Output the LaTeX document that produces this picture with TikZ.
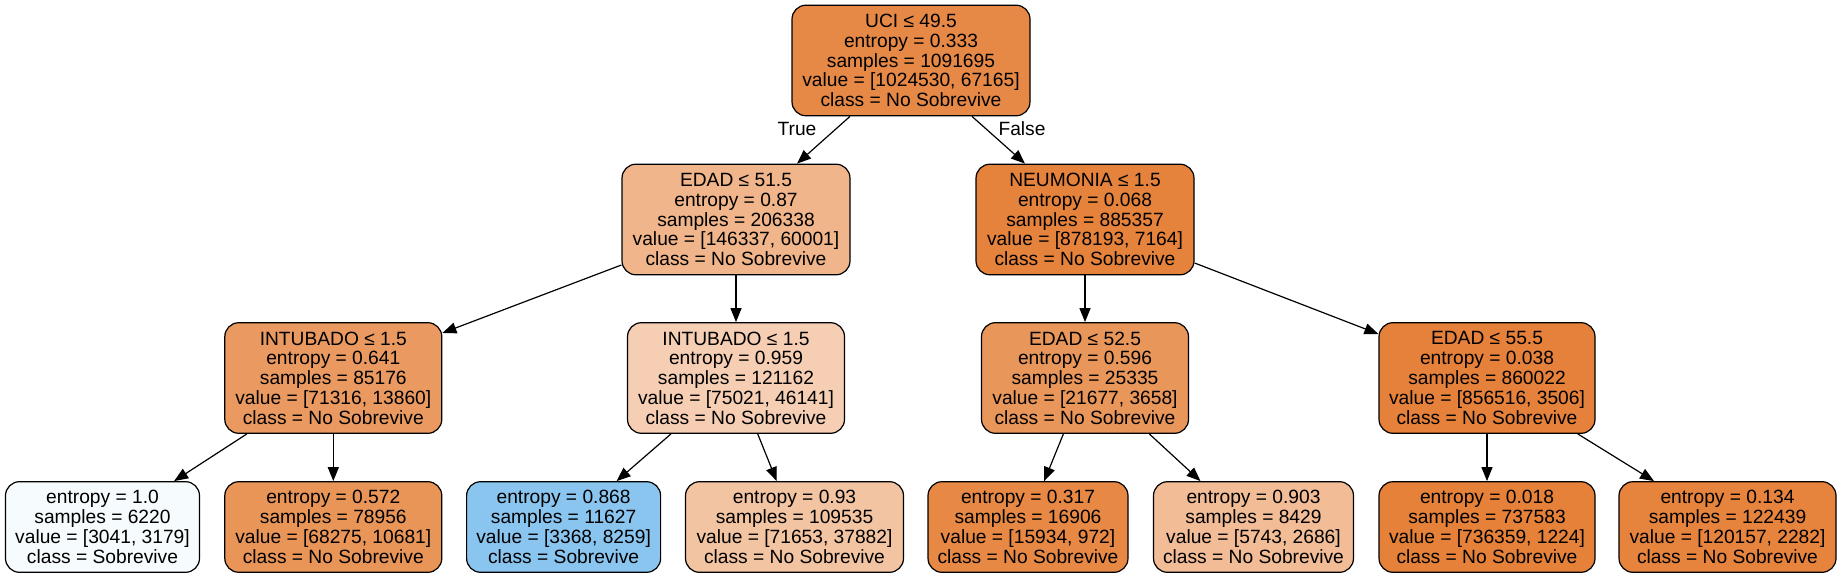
\documentclass[tikz,border=0pt]{standalone}
\usepackage{fontspec}
\setmainfont{Liberation Sans}
\usetikzlibrary{arrows.meta,calc}

\definecolor{n0}{RGB}{231,137,70}
\definecolor{n1}{RGB}{240,181,138}
\definecolor{n2}{RGB}{234,154,96}
\definecolor{n3}{RGB}{246,251,254}
\definecolor{n4}{RGB}{233,149,88}
\definecolor{n5}{RGB}{245,206,179}
\definecolor{n6}{RGB}{138,197,240}
\definecolor{n7}{RGB}{243,196,162}
\definecolor{n8}{RGB}{229,130,59}
\definecolor{n9}{RGB}{233,150,90}
\definecolor{n10}{RGB}{231,137,69}
\definecolor{n11}{RGB}{241,188,150}
\definecolor{n12}{RGB}{229,129,58}
\definecolor{n13}{RGB}{229,129,57}
\definecolor{n14}{RGB}{230,131,61}

\begin{document}
\begin{tikzpicture}[x=0.5pt, y=-0.5pt, line width=0.6pt, >={Triangle[length=7pt,width=5.5pt]},
	main/.style = {draw, rounded corners=7pt, align=center, inner xsep=2pt, minimum height=55.3pt, font=\fontsize{9.6}{9.9}\selectfont},
	leaf/.style = {main, minimum height=45.3pt},
	lab/.style = {font=\fontsize{9.6}{9.9}\selectfont}]
		\useasboundingbox[fill=white] (0,0) rectangle (1842,577);
		
		\node[main, fill=n0, minimum width=119pt] (0) at (911,60.5) {UCI ≤ 49.5\\entropy = 0.333\\samples = 1091695\\value = [1024530, 67165]\\class = No Sobrevive};
		
		\node[main, fill=n1, minimum width=114pt] (1) at (736,219.5) {EDAD ≤ 51.5\\entropy = 0.87\\samples = 206338\\value = [146337, 60001]\\class = No Sobrevive};
		\node[main, fill=n8, minimum width=109pt] (8) at (1085,219.5) {NEUMONIA ≤ 1.5\\entropy = 0.068\\samples = 885357\\value = [878193, 7164]\\class = No Sobrevive};
		
		\node[main, fill=n2, minimum width=108.5pt] (2) at (333.3,378) {INTUBADO ≤ 1.5\\entropy = 0.641\\samples = 85176\\value = [71316, 13860]\\class = No Sobrevive};
		\node[main, fill=n5, minimum width=108.5pt] (5) at (736,378) {INTUBADO ≤ 1.5\\entropy = 0.959\\samples = 121162\\value = [75021, 46141]\\class = No Sobrevive};
		\node[main, fill=n9, minimum width=103.5pt] (9) at (1085,378) {EDAD ≤ 52.5\\entropy = 0.596\\samples = 25335\\value = [21677, 3658]\\class = No Sobrevive};
		\node[main, fill=n12, minimum width=108pt] (12) at (1487,378) {EDAD ≤ 55.5\\entropy = 0.038\\samples = 860022\\value = [856516, 3506]\\class = No Sobrevive};
		
		\node[leaf, fill=n3, minimum width=97pt] (3) at (102.5,527) {entropy = 1.0\\samples = 6220\\value = [3041, 3179]\\class = Sobrevive};
		\node[leaf, fill=n4, minimum width=108.5pt] (4) at (333.3,527) {entropy = 0.572\\samples = 78956\\value = [68275, 10681]\\class = No Sobrevive};
		\node[leaf, fill=n6, minimum width=97pt] (6) at (563.6,527) {entropy = 0.868\\samples = 11627\\value = [3368, 8259]\\class = Sobrevive};
		\node[leaf, fill=n7, minimum width=109pt] (7) at (794.5,527) {entropy = 0.93\\samples = 109535\\value = [71653, 37882]\\class = No Sobrevive};
		\node[leaf, fill=n10, minimum width=100pt] (10) at (1028,527) {entropy = 0.317\\samples = 16906\\value = [15934, 972]\\class = No Sobrevive};
		\node[leaf, fill=n11, minimum width=100pt] (11) at (1253.5,527) {entropy = 0.903\\samples = 8429\\value = [5743, 2686]\\class = No Sobrevive};
		\node[leaf, fill=n13, minimum width=108pt] (13) at (1487,527) {entropy = 0.018\\samples = 737583\\value = [736359, 1224]\\class = No Sobrevive};
		\node[leaf, fill=n14, minimum width=108.5pt] (14) at (1727.5,527) {entropy = 0.134\\samples = 122439\\value = [120157, 2282]\\class = No Sobrevive};
		
		\node[lab] (t) at (797,129) {True};
		\node[lab] (f) at (1022,129) {False};
		
		\draw[->] ($(0.south)+(-61,0)$) -- ($(1.north)+(61,0)$);
		\draw[->] ($(0.south)+(61,0)$) -- ($(8.north)+(-60,0)$);
		\draw[->] ($(1.west)+(0,45.5)$) -- ($(2.east)+(0,-45)$);
		\draw[->] (1.south) -- (5.north);
		\draw[->] (8.south) -- (9.north);
		\draw[->] ($(8.east)+(0,43.5)$) -- ($(12.west)+(0,-44)$);
		\draw[->] ($(2.south)+(-86.4,0)$) -- ($(3.north)+(71.6,0)$);
		\draw[->] (2.south) -- (4.north);
		\draw[->] ($(5.south)+(-65,0)$) -- ($(6.north)+(53,0)$);
		\draw[->] ($(5.south)+(21.7,0)$) -- ($(7.north)+(-17.8,0)$);
		\draw[->] ($(9.south)+(-21.6,0)$) -- ($(10.north)+(16.2,0)$);
		\draw[->] ($(9.south)+(64.3,0)$) -- ($(11.north)+(-53,0)$);
		\draw[->] (12.south) -- (13.north);
		\draw[->] ($(12.south)+(90.7,0)$) -- ($(14.north)+(-73.5,0)$);
		
	\end{tikzpicture}
\end{document}
